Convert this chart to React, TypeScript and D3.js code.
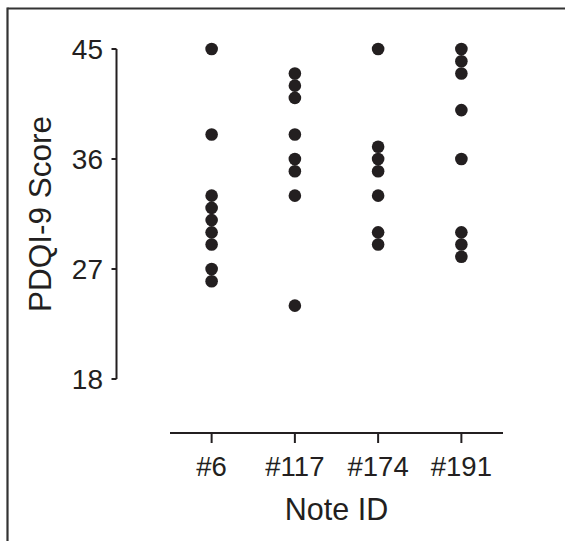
import React from "react";
import * as d3 from "d3";

const categories = ["#6", "#117", "#174", "#191"];
const scores6 = [45, 38, 33, 32, 31, 30, 29, 27, 26];
const scores117 = [43, 42, 41, 38, 36, 35, 33, 24];
const scores174 = [45, 37, 36, 35, 33, 30, 29];
const scores191 = [45, 44, 43, 40, 36, 30, 29, 28];
const seriesValues = [scores6, scores117, scores174, scores191];
const yTicks = [18, 27, 36, 45];

const W = 565;
const H = 541;
const INK = "#231f20";
const FONT = "'Liberation Sans', Arial, sans-serif";

export default function App() {
  const x = d3.scalePoint<string>().domain(categories).range([170, 503]).padding(0.5);
  const y = d3.scaleLinear().domain([18, 45]).range([379, 49]);
  const yAxisX = 116.5;
  const xAxisY = 433;

  const points = categories.flatMap((c, i) =>
    seriesValues[i].map((v, j) => ({ c, v, key: `${c}-${j}` }))
  );

  return (
    <svg
      width={W}
      height={H}
      style={{ position: "absolute", left: 0, top: 0, display: "block", background: "#fff" }}
    >
      {/* frame */}
      <line x1={7.5} y1={8.5} x2={W + 5} y2={8.5} stroke="#333" strokeWidth={2.2} />
      <line x1={7.5} y1={7.5} x2={7.5} y2={H + 5} stroke="#333" strokeWidth={2.2} />

      {/* y axis */}
      <line x1={yAxisX} y1={y(45)} x2={yAxisX} y2={y(18)} stroke={INK} strokeWidth={2} />
      {yTicks.map((t) => (
        <g key={t}>
          <line x1={yAxisX - 5} y1={y(t)} x2={yAxisX} y2={y(t)} stroke={INK} strokeWidth={2} />
          <text
            x={103}
            y={y(t)}
            dy="0.36em"
            textAnchor="end"
            fontFamily={FONT}
            fontSize={28}
            fill={INK}
          >
            {t}
          </text>
        </g>
      ))}
      <text
        transform={`translate(51,${(y(45) + y(18)) / 2}) rotate(-90)`}
        textAnchor="middle"
        fontFamily={FONT}
        fontSize={31.5}
        fill={INK}
      >
        PDQI-9 Score
      </text>

      {/* x axis */}
      <line x1={170} y1={xAxisY} x2={503} y2={xAxisY} stroke={INK} strokeWidth={2} />
      {categories.map((c) => (
        <g key={c}>
          <line x1={x(c)} y1={xAxisY} x2={x(c)} y2={xAxisY + 10} stroke={INK} strokeWidth={2} />
          <text
            x={x(c)}
            y={476}
            textAnchor="middle"
            fontFamily={FONT}
            fontSize={27.5}
            fill={INK}
          >
            {c}
          </text>
        </g>
      ))}
      <text x={336.5} y={520} textAnchor="middle" fontFamily={FONT} fontSize={30.5} fill={INK}>
        Note ID
      </text>

      {/* points */}
      {points.map((p) => (
        <circle key={p.key} cx={x(p.c)} cy={y(p.v)} r={6.3} fill={INK} />
      ))}
    </svg>
  );
}
